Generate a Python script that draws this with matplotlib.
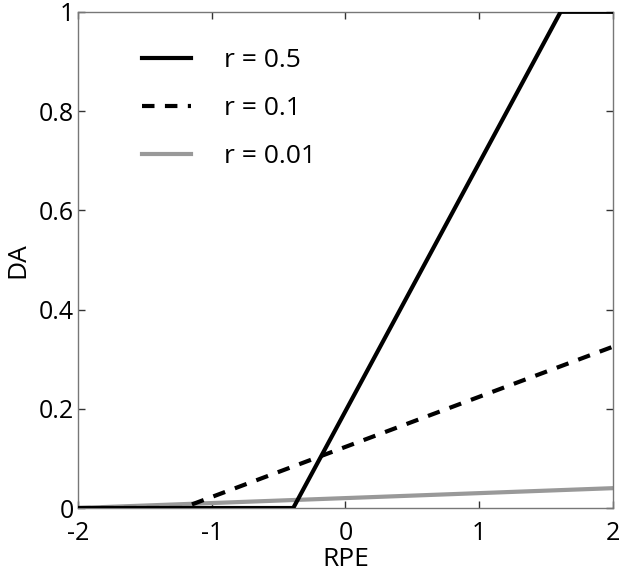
import numpy as np
import matplotlib
matplotlib.use("Agg")
import matplotlib.pyplot as plt
matplotlib.rcParams['font.family'] = ['Open Sans', 'DejaVu Sans']

# breakpoints of each piecewise-linear curve (RPE, DA)
rpe_05 = [-2, -0.39, 1.61, 2]
da_05 = [0, 0, 1, 1]
rpe_01 = [-2, -1.22, 2]
da_01 = [0, 0, 0.325]
rpe_001 = [-2, 2]
da_001 = [0, 0.04]

labels = ['r = 0.5', 'r = 0.1', 'r = 0.01']
xticks = [-2, -1, 0, 1, 2]
yticks = [0, 0.2, 0.4, 0.6, 0.8, 1]

fig = plt.figure(figsize=(6.24, 5.73), dpi=100)
ax = fig.add_axes([0.125, 0.1134, 0.857, 0.866])

ax.plot(rpe_001, da_001, color='#999999', lw=3, label=labels[2], zorder=2)
ax.plot(rpe_01, da_01, color='black', lw=3, ls=(0, (3, 2.5)), label=labels[1], zorder=3)
ax.plot(rpe_05, da_05, color='black', lw=3, label=labels[0], zorder=4)

ax.set_xlim(-2, 2)
ax.set_ylim(0, 1)
ax.set_xticks(xticks)
ax.set_yticks(yticks)
ax.set_xticklabels([str(t) for t in xticks])
ax.set_yticklabels(['0', '0.2', '0.4', '0.6', '0.8', '1'])
ax.tick_params(direction='in', length=5, width=1, top=True, right=True,
               labelsize=18, pad=3, color='#333333')
ax.tick_params(axis='x', pad=9)
for s in ax.spines.values():
    s.set_color('#777777')
    s.set_linewidth(1)
ax.set_xlabel('RPE', fontsize=19, labelpad=1)
ax.set_ylabel('DA', fontsize=19, labelpad=6)

h, l = ax.get_legend_handles_labels()
ax.legend(h[::-1], l[::-1], loc='upper left', bbox_to_anchor=(0.075, 0.975),
          frameon=False, fontsize=19, handlelength=1.85, handletextpad=1.25,
          labelspacing=0.87)

fig.savefig('out.png', dpi=100)
